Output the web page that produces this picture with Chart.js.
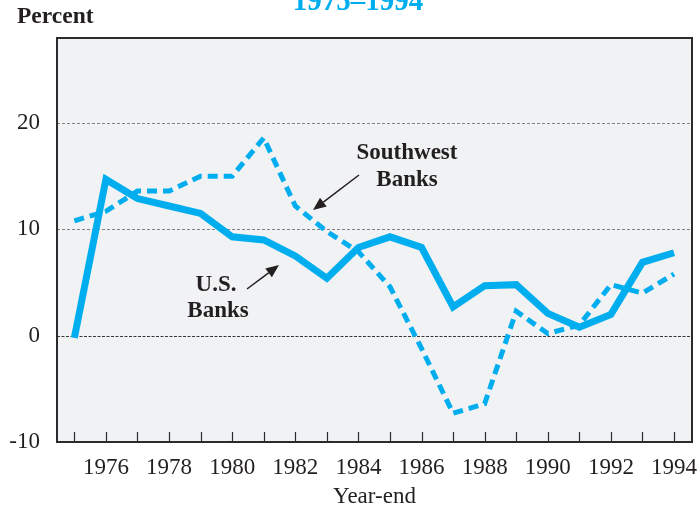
<!DOCTYPE html>
<html>
<head>
<meta charset="utf-8">
<script src="https://cdn.jsdelivr.net/npm/chart.js@4"></script>
<style>
  html, body { margin: 0; padding: 0; background: #ffffff; }
  #wrap { width: 700px; height: 511px; position: relative; }
</style>
</head>
<body>
<div id="wrap"><canvas id="c" width="700" height="511"></canvas></div>
<script>
// ---- Data ----
const years = [1975, 1976, 1977, 1978, 1979, 1980, 1981, 1982, 1983, 1984,
               1985, 1986, 1987, 1988, 1989, 1990, 1991, 1992, 1993, 1994];
const usBanks = [-0.2, 14.7, 12.9, 12.2, 11.5, 9.3, 9.0, 7.5, 5.4, 8.3,
                 9.3, 8.3, 2.7, 4.7, 4.8, 2.1, 0.8, 2.0, 6.9, 7.8];
const southwestBanks = [10.8, 11.7, 13.6, 13.6, 15.0, 15.0, 18.6, 12.2, 9.8, 7.9,
                        4.6, -1.2, -7.3, -6.4, 2.3, 0.2, 1.0, 4.8, 4.0, 5.8];
const xTickLabels = [1976, 1978, 1980, 1982, 1984, 1986, 1988, 1990, 1992, 1994];
const yTickLabels = [-10, 0, 10, 20];
const titleText = '1975\u20131994';
const yUnitText = 'Percent';
const xTitleText = 'Year-end';

const BLUE = '#00aeef';
const INK = '#231f20';
const SERIF = '"Liberation Serif", "Times New Roman", serif';

const toPoints = arr => years.map((yr, i) => ({ x: yr, y: arr[i] }));

const decor = {
  id: 'decor',
  beforeDraw(chart) {
    const { ctx, chartArea: a } = chart;
    ctx.save();
    ctx.fillStyle = '#f1f2f4';
    ctx.fillRect(a.left, a.top, a.right - a.left, a.bottom - a.top);
    ctx.restore();
  },
  beforeDatasetsDraw(chart) {
    const { ctx, chartArea: a, scales } = chart;
    const y = scales.y;
    ctx.save();
    yTickLabels.forEach(v => {
      if (v <= y.min || v >= y.max) return;
      const py = Math.round(y.getPixelForValue(v)) + 0.5;
      ctx.beginPath();
      if (v === 0) {
        ctx.strokeStyle = '#3a3a3a';
        ctx.lineWidth = 1.2;
        ctx.setLineDash([3, 1.5]);
      } else {
        ctx.strokeStyle = '#808080';
        ctx.lineWidth = 1;
        ctx.setLineDash([3, 2]);
      }
      ctx.moveTo(a.left, py);
      ctx.lineTo(a.right, py);
      ctx.stroke();
    });
    ctx.restore();
  },
  afterDraw(chart) {
    const { ctx, chartArea: a, scales } = chart;
    const x = scales.x;
    ctx.save();
    // inward tick marks every year
    ctx.strokeStyle = '#2b2b2b';
    ctx.lineWidth = 1.2;
    years.forEach(yr => {
      const px = Math.round(x.getPixelForValue(yr)) + 0.5;
      ctx.beginPath();
      ctx.moveTo(px, a.bottom);
      ctx.lineTo(px, a.bottom - 10);
      ctx.stroke();
    });
    // frame
    ctx.strokeStyle = '#2b2b2b';
    ctx.lineWidth = 2;
    ctx.strokeRect(a.left, a.top, a.right - a.left, a.bottom - a.top);

    // title (partly cut at top)
    ctx.fillStyle = BLUE;
    ctx.font = 'bold 29px ' + SERIF;
    ctx.textAlign = 'center';
    ctx.textBaseline = 'alphabetic';
    ctx.fillText(titleText, 358, 10);

    // unit label
    ctx.fillStyle = INK;
    ctx.font = 'bold 23.5px ' + SERIF;
    ctx.textAlign = 'left';
    ctx.fillText(yUnitText, 17, 23);

    // annotations
    ctx.font = 'bold 23px ' + SERIF;
    ctx.textAlign = 'center';
    ctx.fillText('Southwest', 407, 159);
    ctx.fillText('Banks', 407, 186);
    ctx.fillText('U.S.', 216, 291);
    ctx.fillText('Banks', 218, 317);

    const arrow = (x1, y1, x2, y2) => {
      const ang = Math.atan2(y2 - y1, x2 - x1);
      const hl = 13, hw = 5.5;
      const bx = x2 - hl * Math.cos(ang), by = y2 - hl * Math.sin(ang);
      ctx.strokeStyle = INK;
      ctx.lineWidth = 1.5;
      ctx.beginPath();
      ctx.moveTo(x1, y1);
      ctx.lineTo(bx, by);
      ctx.stroke();
      ctx.fillStyle = INK;
      ctx.beginPath();
      ctx.moveTo(x2, y2);
      ctx.lineTo(bx + hw * Math.sin(ang), by - hw * Math.cos(ang));
      ctx.lineTo(bx - hw * Math.sin(ang), by + hw * Math.cos(ang));
      ctx.closePath();
      ctx.fill();
    };
    arrow(359, 175, 313, 210);
    arrow(247, 289, 279, 265);
    ctx.restore();
  }
};

new Chart(document.getElementById('c'), {
  type: 'line',
  data: {
    datasets: [
      {
        label: 'U.S. Banks',
        data: toPoints(usBanks),
        borderColor: BLUE,
        borderWidth: 7,
        pointRadius: 0,
        tension: 0,
        borderJoinStyle: 'miter',
        borderCapStyle: 'butt',
        fill: false,
        order: 1
      },
      {
        label: 'Southwest Banks',
        data: toPoints(southwestBanks),
        borderColor: BLUE,
        borderWidth: 5,
        borderDash: [10, 6],
        pointRadius: 0,
        tension: 0,
        borderJoinStyle: 'miter',
        borderCapStyle: 'butt',
        fill: false,
        order: 0
      }
    ]
  },
  options: {
    responsive: false,
    animation: false,
    devicePixelRatio: 1,
    layout: { padding: { top: 38, right: 8, bottom: 0, left: 0 } },
    plugins: { legend: { display: false }, tooltip: { enabled: false }, title: { display: false } },
    scales: {
      x: {
        type: 'linear',
        min: 1974.45,
        max: 1994.57,
        grid: { display: false, drawTicks: false },
        border: { display: false },
        afterBuildTicks: s => { s.ticks = xTickLabels.map(v => ({ value: v })); },
        afterFit: s => { s.height = 69; s.paddingLeft = 0; s.paddingRight = 0; },
        ticks: {
          autoSkip: false,
          maxRotation: 0,
          padding: 12,
          color: INK,
          font: { family: SERIF, size: 23 },
          callback: v => String(v)
        },
        title: {
          display: true,
          text: xTitleText,
          color: INK,
          font: { family: SERIF, size: 23 },
          padding: { top: 0, bottom: 0 }
        }
      },
      y: {
        type: 'linear',
        min: -10,
        max: 28,
        grid: { display: false, drawTicks: false },
        border: { display: false },
        afterBuildTicks: s => { s.ticks = yTickLabels.map(v => ({ value: v })); },
        afterFit: s => { s.width = 57; s.paddingTop = 0; s.paddingBottom = 0; },
        ticks: {
          autoSkip: false,
          padding: 17,
          color: INK,
          font: { family: SERIF, size: 23 },
          callback: v => String(v)
        }
      }
    }
  },
  plugins: [decor]
});
</script>
</body>
</html>
